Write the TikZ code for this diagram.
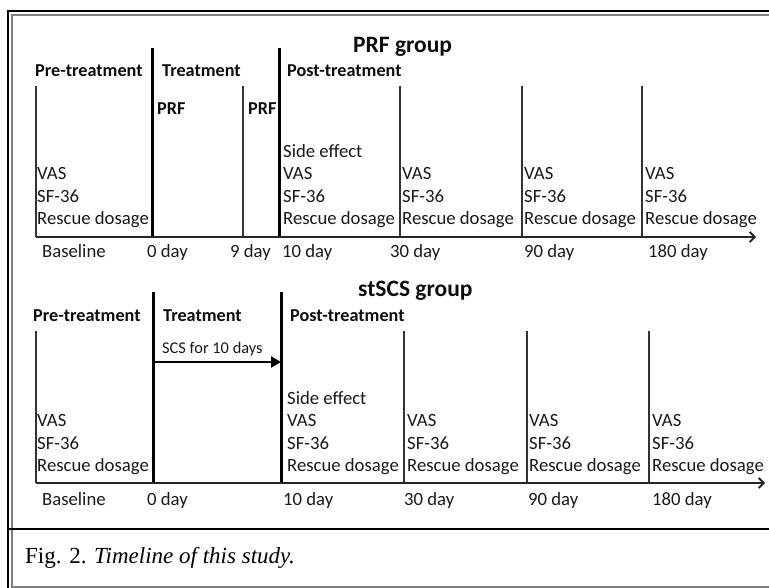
\documentclass[tikz,border=0pt]{standalone}
\usepackage{fontspec}
\setmainfont{Carlito}
\newfontfamily\capfont{Liberation Serif}
\usetikzlibrary{arrows.meta}
\begin{document}
\begin{tikzpicture}[x=1pt,y=-1pt,
  txt/.style={anchor=base west,inner sep=0pt,font=\fontsize{18.7}{22}\selectfont,text=black!90},
  hdr/.style={anchor=base west,inner sep=0pt,font=\fontsize{18.2}{22}\bfseries\selectfont,text=black!95},
  ttl/.style={anchor=base west,inner sep=0pt,font=\fontsize{23.5}{28}\bfseries\selectfont,text=black!95},
  small/.style={anchor=base west,inner sep=0pt,font=\fontsize{16.4}{20}\selectfont,text=black!90},
  thinln/.style={line width=1.4pt,draw=black!80},
  thickln/.style={line width=3pt,draw=black},
  axis/.style={line width=1.8pt,draw=black!85,-{Straight Barb[length=5pt,width=10pt,line width=1.8pt]}},
  framebk/.style={line width=2.2pt,draw=black},
  framegr/.style={line width=1.6pt,draw=black!50}
]
\useasboundingbox (0,0) rectangle (769,588);
% frame
\coordinate (fa) at (8,588); \coordinate (fb) at (8,11); \coordinate (fc) at (769,11);
\draw[framebk] (fa) -- (fb) -- (fc);
\coordinate (ga) at (12,588); \coordinate (gb) at (12,15); \coordinate (gc) at (769,15);
\draw[framegr] (ga) -- (gb) -- (gc);
\coordinate (gd) at (12,587); \coordinate (ge) at (769,587);
\draw[framegr,line width=1.2pt] (gd) -- (ge);
\coordinate (sa) at (9,529); \coordinate (sb) at (769,529);
\draw[line width=1.6pt] (sa) -- (sb);

% ================= PRF group =================
\node[ttl] (t1) at (353,53) {PRF group};
\node[hdr] (h1a) at (35,77) {Pre-treatment};
\node[hdr] (h1b) at (162,77) {Treatment};
\node[hdr] (h1c) at (287,77) {Post-treatment};
\node[hdr] (p1) at (157,115) {PRF};
\node[hdr] (p2) at (248,115) {PRF};

% lines
\coordinate (a0) at (36,237);
\coordinate (a1) at (756,237);
\coordinate (v1t) at (36,86);   \coordinate (v1b) at (36,237);
\coordinate (v2t) at (152,48);  \coordinate (v2b) at (152,238);
\coordinate (v3t) at (243,86);  \coordinate (v3b) at (243,237);
\coordinate (v4t) at (279,48);  \coordinate (v4b) at (279,238);
\coordinate (v5t) at (400,86);  \coordinate (v5b) at (400,237);
\coordinate (v6t) at (522,86);  \coordinate (v6b) at (522,237);
\coordinate (v7t) at (642,86);  \coordinate (v7b) at (642,237);
\draw[thinln] (v1t) -- (v1b);
\draw[thickln] (v2t) -- (v2b);
\draw[thinln] (v3t) -- (v3b);
\draw[thickln] (v4t) -- (v4b);
\draw[thinln] (v5t) -- (v5b);
\draw[thinln] (v6t) -- (v6b);
\draw[thinln] (v7t) -- (v7b);
\draw[axis] (a0) -- (a1);

% stacks
\node[txt] (b1v) at (37,180) {VAS};
\node[txt] (b1s) at (37,203) {SF-36};
\node[txt] (b1r) at (37,225) {Rescue dosage};
\node[txt] (c1e) at (283,158) {Side effect};
\node[txt] (c1v) at (283,180) {VAS};
\node[txt] (c1s) at (283,203) {SF-36};
\node[txt] (c1r) at (283,225) {Rescue dosage};
\node[txt] (d1v) at (402,180) {VAS};
\node[txt] (d1s) at (402,203) {SF-36};
\node[txt] (d1r) at (402,225) {Rescue dosage};
\node[txt] (e1v) at (524,180) {VAS};
\node[txt] (e1s) at (524,203) {SF-36};
\node[txt] (e1r) at (524,225) {Rescue dosage};
\node[txt] (f1v) at (645,180) {VAS};
\node[txt] (f1s) at (645,203) {SF-36};
\node[txt] (f1r) at (645,225) {Rescue dosage};

% day labels
\node[txt] (l1a) at (42,258) {Baseline};
\node[txt] (l1b) at (147,258) {0 day};
\node[txt] (l1c) at (230,258) {9 day};
\node[txt] (l1d) at (282,258) {10 day};
\node[txt] (l1e) at (390,258) {30 day};
\node[txt] (l1f) at (524,258) {90 day};
\node[txt] (l1g) at (648,258) {180 day};

% ================= stSCS group =================
\node[ttl] (t2) at (358,297) {stSCS group};
\node[hdr] (h2a) at (33,322) {Pre-treatment};
\node[hdr] (h2b) at (163,322) {Treatment};
\node[hdr] (h2c) at (290,322) {Post-treatment};
\node[small] (scs) at (162,353) {SCS for 10 days};

\coordinate (b0) at (36,483);
\coordinate (b1) at (765,483);
\coordinate (w1t) at (36,331);  \coordinate (w1b) at (36,483);
\coordinate (w2t) at (153,292); \coordinate (w2b) at (153,484);
\coordinate (w4t) at (281,292); \coordinate (w4b) at (281,484);
\coordinate (w5t) at (404,331); \coordinate (w5b) at (404,483);
\coordinate (w6t) at (527,331); \coordinate (w6b) at (527,483);
\coordinate (w7t) at (649,331); \coordinate (w7b) at (649,483);
\draw[thinln] (w1t) -- (w1b);
\draw[thickln] (w2t) -- (w2b);
\draw[thickln] (w4t) -- (w4b);
\draw[thinln] (w5t) -- (w5b);
\draw[thinln] (w6t) -- (w6b);
\draw[thinln] (w7t) -- (w7b);
\draw[axis] (b0) -- (b1);
\coordinate (sc0) at (153,362);
\coordinate (sc1) at (281,362);
\draw[line width=2.6pt,-{Triangle[length=10pt,width=11pt]}] (sc0) -- (sc1);

\node[txt] (b2v) at (37,426) {VAS};
\node[txt] (b2s) at (37,449) {SF-36};
\node[txt] (b2r) at (37,471) {Rescue dosage};
\node[txt] (c2e) at (287,404) {Side effect};
\node[txt] (c2v) at (287,426) {VAS};
\node[txt] (c2s) at (287,449) {SF-36};
\node[txt] (c2r) at (287,471) {Rescue dosage};
\node[txt] (d2v) at (407,426) {VAS};
\node[txt] (d2s) at (407,449) {SF-36};
\node[txt] (d2r) at (407,471) {Rescue dosage};
\node[txt] (e2v) at (529,426) {VAS};
\node[txt] (e2s) at (529,449) {SF-36};
\node[txt] (e2r) at (529,471) {Rescue dosage};
\node[txt] (f2v) at (652,426) {VAS};
\node[txt] (f2s) at (652,449) {SF-36};
\node[txt] (f2r) at (652,471) {Rescue dosage};

\node[txt] (l2a) at (42,505) {Baseline};
\node[txt] (l2b) at (147,505) {0 day};
\node[txt] (l2d) at (283,505) {10 day};
\node[txt] (l2e) at (404,505) {30 day};
\node[txt] (l2f) at (528,505) {90 day};
\node[txt] (l2g) at (652,505) {180 day};

% caption
\node[anchor=base west,inner sep=0pt,font=\capfont\fontsize{23}{27}\selectfont] (cap) at (25,563) {Fig. 2. \textit{Timeline of this study.}};
\end{tikzpicture}
\end{document}
